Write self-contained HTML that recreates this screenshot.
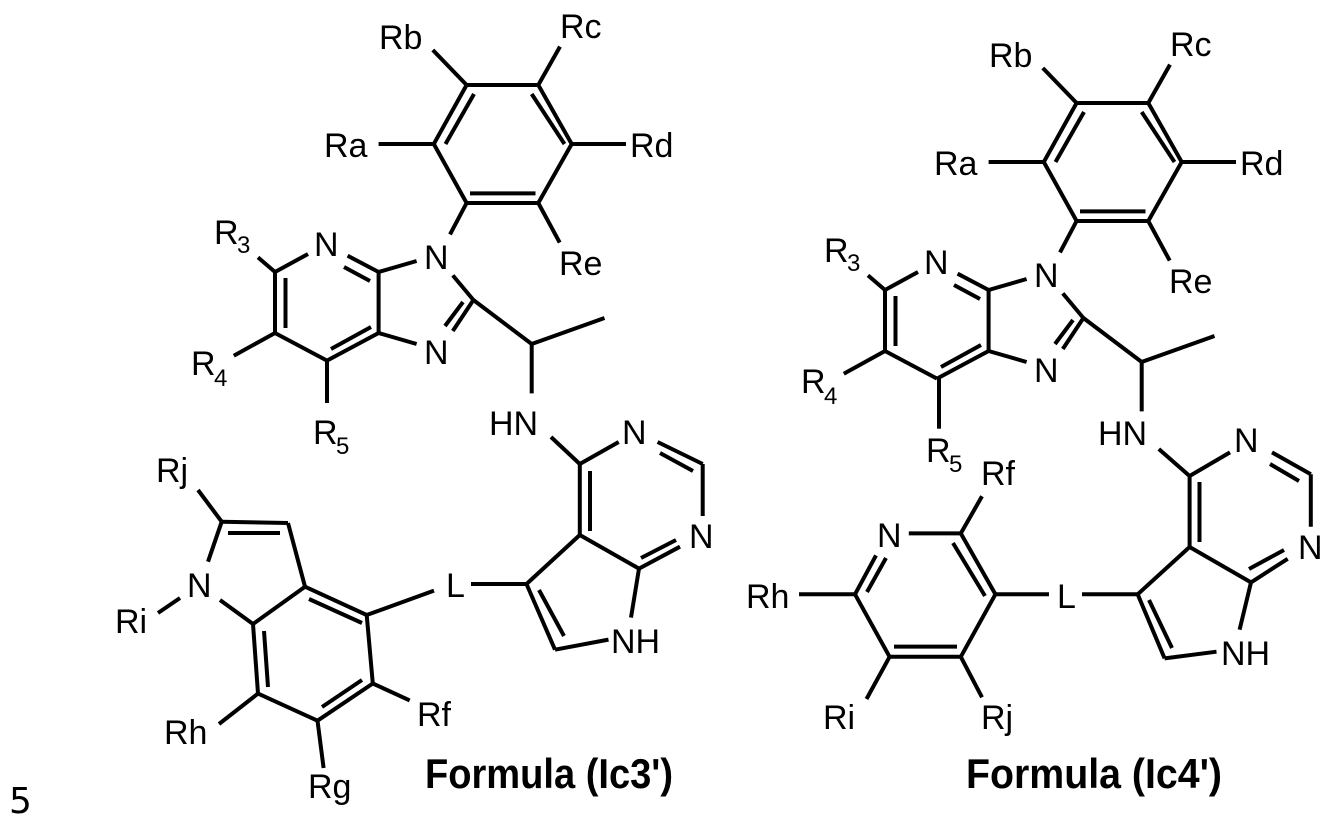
<!DOCTYPE html>
<html><head><meta charset="utf-8"><style>
html,body{margin:0;padding:0;background:#fff;width:1330px;height:825px;overflow:hidden}
svg{display:block}
text{font-family:"Liberation Sans",Arial,sans-serif;font-size:34px;fill:#000}
.s{font-size:24px}
.b{font-weight:bold;font-size:42px}
</style></head><body>
<svg width="1330" height="825" viewBox="0 0 1330 825" xmlns="http://www.w3.org/2000/svg">
<defs>
<g id="top">
<g stroke="#000" stroke-width="4" stroke-linecap="butt" fill="none">
<path d="M466.6,85L538.3,85L571.7,144L538.3,203L466.6,203L433.8,144Z"/>
<line x1="445.5" y1="144" x2="474" y2="94"/>
<line x1="531.7" y1="94" x2="564.5" y2="144"/>
<line x1="470" y1="193.4" x2="535.5" y2="193.4"/>
<line x1="466.6" y1="85" x2="432.8" y2="50"/>
<line x1="538.3" y1="85" x2="560" y2="46.6"/>
<line x1="433.8" y1="144" x2="378.6" y2="144"/>
<line x1="571.7" y1="144" x2="626" y2="144"/>
<line x1="538.3" y1="203" x2="559.7" y2="242.6"/>
<line x1="466.6" y1="203" x2="450" y2="234.4"/>
<line x1="275" y1="272" x2="308" y2="254"/>
<line x1="347.6" y1="255.7" x2="378.6" y2="272"/>
<line x1="344" y1="267" x2="370" y2="281"/>
<line x1="378.6" y1="272" x2="416.6" y2="261"/>
<line x1="378.6" y1="272" x2="378.6" y2="333"/>
<line x1="378.6" y1="333" x2="416.6" y2="344"/>
<line x1="452.8" y1="275.4" x2="473.4" y2="300"/>
<line x1="452.8" y1="331" x2="473.4" y2="300"/>
<line x1="445" y1="326" x2="463" y2="302"/>
<line x1="275" y1="272" x2="275" y2="333"/>
<line x1="285.5" y1="278" x2="285.5" y2="328"/>
<line x1="275" y1="333" x2="327" y2="360.6"/>
<line x1="327" y1="360.6" x2="378.6" y2="333"/>
<line x1="331" y1="349" x2="371" y2="327"/>
<line x1="275" y1="272" x2="258" y2="257.4"/>
<line x1="275" y1="333" x2="233.8" y2="355.7"/>
<line x1="473.4" y1="300" x2="531.7" y2="344"/>
<line x1="531.7" y1="344" x2="604.5" y2="318"/>
<line x1="531.7" y1="344" x2="531.7" y2="393.4"/>
</g>
<text x="379" y="49">Rb</text>
<text x="560" y="38">Rc</text>
<text x="324" y="157">Ra</text>
<text x="630" y="157">Rd</text>
<text x="559" y="275">Re</text>
<text x="424" y="269">N</text>
<text x="314" y="256">N</text>
<text x="424" y="364">N</text>
<text x="214" y="244">R</text><text class="s" x="237" y="253">3</text>
<text x="191" y="375">R</text><text class="s" x="214" y="386">4</text>
</g>
</defs>

<use href="#top"/>
<g stroke="#000" stroke-width="4" fill="none">
<line x1="327" y1="360.6" x2="327" y2="403"/>
<line x1="551" y1="437" x2="579.8" y2="464"/>
<line x1="579.8" y1="464" x2="618.7" y2="442"/>
<line x1="657.6" y1="442" x2="702.7" y2="464"/>
<line x1="660" y1="453" x2="693" y2="471"/>
<line x1="702.7" y1="464" x2="702.7" y2="516"/>
<line x1="680" y1="546.7" x2="639" y2="568.6"/>
<line x1="641" y1="558" x2="676" y2="540"/>
<line x1="579.8" y1="464" x2="579.8" y2="535"/>
<line x1="590" y1="471" x2="590" y2="531"/>
<line x1="579.8" y1="535" x2="639" y2="568.6"/>
<line x1="579.8" y1="535" x2="526.5" y2="584"/>
<line x1="526.5" y1="584" x2="471" y2="584"/>
<line x1="526.5" y1="584" x2="555" y2="649.7"/>
<line x1="539" y1="590" x2="564" y2="636"/>
<line x1="555" y1="649.7" x2="608.5" y2="639.6"/>
<line x1="639" y1="568.6" x2="631" y2="617.6"/>
<line x1="198" y1="490" x2="221.7" y2="521.7"/>
<line x1="221.7" y1="521.7" x2="288" y2="523"/>
<line x1="228" y1="533" x2="280" y2="533"/>
<line x1="221.7" y1="521.7" x2="208" y2="561.7"/>
<line x1="180" y1="598" x2="158" y2="613"/>
<line x1="220" y1="600" x2="253" y2="624"/>
<line x1="288" y1="523" x2="305" y2="586.7"/>
<line x1="305" y1="586.7" x2="253" y2="624"/>
<line x1="305" y1="586.7" x2="366.7" y2="615"/>
<line x1="309" y1="599" x2="362" y2="623"/>
<line x1="366.7" y1="615" x2="434" y2="590.6"/>
<line x1="366.7" y1="615" x2="372.8" y2="683.5"/>
<line x1="372.8" y1="683.5" x2="409.7" y2="700.4"/>
<line x1="372.8" y1="683.5" x2="317.5" y2="720.7"/>
<line x1="362" y1="680" x2="322" y2="707"/>
<line x1="317.5" y1="720.7" x2="258" y2="693.6"/>
<line x1="258" y1="693.6" x2="253" y2="624"/>
<line x1="264" y1="631" x2="268" y2="687"/>
<line x1="258" y1="693.6" x2="219" y2="724"/>
<line x1="317.5" y1="720.7" x2="323.6" y2="768"/>
</g>
<text x="313" y="444">R</text><text class="s" x="336" y="454">5</text>
<text x="489" y="435">HN</text>
<text x="622" y="444">N</text>
<text x="689" y="548">N</text>
<text x="446" y="597">L</text>
<text x="611" y="653">NH</text>
<text x="156" y="482">Rj</text>
<text x="187" y="597">N</text>
<text x="115" y="633">Ri</text>
<text x="417" y="726">Rf</text>
<text x="164" y="744">Rh</text>
<text x="308" y="798">Rg</text>
<text class="b" x="425" y="788" textLength="248" lengthAdjust="spacingAndGlyphs">Formula (Ic3')</text>

<use href="#top" transform="translate(610,18)"/>
<g stroke="#000" stroke-width="4" fill="none">
<line x1="939" y1="378" x2="939" y2="428.7"/>
<line x1="1158.8" y1="449" x2="1189.6" y2="476"/>
<line x1="1189.6" y1="476" x2="1230" y2="452.4"/>
<line x1="1272" y1="452.4" x2="1310.8" y2="474.3"/>
<line x1="1270" y1="464" x2="1299" y2="481"/>
<line x1="1310.8" y1="474.3" x2="1310.8" y2="526.7"/>
<line x1="1287.7" y1="558.8" x2="1251" y2="582.4"/>
<line x1="1249" y1="569" x2="1284" y2="550"/>
<line x1="1189.6" y1="476" x2="1189.6" y2="547"/>
<line x1="1199.5" y1="482" x2="1199.5" y2="542"/>
<line x1="1189.6" y1="547" x2="1251" y2="582.4"/>
<line x1="1189.6" y1="547" x2="1137.7" y2="594.3"/>
<line x1="1137.7" y1="594.3" x2="1082" y2="594.3"/>
<line x1="1137.7" y1="594.3" x2="1164.6" y2="658.4"/>
<line x1="1149" y1="600" x2="1172" y2="648"/>
<line x1="1164.6" y1="658.4" x2="1216.5" y2="651.7"/>
<line x1="1251" y1="582.4" x2="1239.6" y2="629.7"/>
<line x1="908.8" y1="533.4" x2="960.8" y2="533.4"/>
<line x1="960.8" y1="533.4" x2="982" y2="496.3"/>
<line x1="960.8" y1="533.4" x2="995.4" y2="594.3"/>
<line x1="953" y1="543" x2="985" y2="596"/>
<line x1="995.4" y1="594.3" x2="1049" y2="594.3"/>
<line x1="995.4" y1="594.3" x2="960.8" y2="656.8"/>
<line x1="960.8" y1="656.8" x2="982" y2="697.3"/>
<line x1="960.8" y1="656.8" x2="889.6" y2="656.8"/>
<line x1="894" y1="646.6" x2="957" y2="646.6"/>
<line x1="889.6" y1="656.8" x2="866.5" y2="699"/>
<line x1="889.6" y1="656.8" x2="855" y2="594.3"/>
<line x1="855" y1="594.3" x2="799" y2="594.3"/>
<line x1="855" y1="594.3" x2="876" y2="555.4"/>
<line x1="867" y1="592" x2="886" y2="558"/>
</g>
<text x="926" y="462">R</text><text class="s" x="949" y="472">5</text>
<text x="1098" y="445">HN</text>
<text x="1234" y="452">N</text>
<text x="1298" y="559">N</text>
<text x="1057" y="608">L</text>
<text x="1221" y="665">NH</text>
<text x="877" y="547">N</text>
<text x="981" y="485">Rf</text>
<text x="981" y="729">Rj</text>
<text x="823" y="729">Ri</text>
<text x="746" y="608">Rh</text>
<text class="b" x="966" y="788" textLength="256" lengthAdjust="spacingAndGlyphs">Formula (Ic4')</text>

<text x="9" y="813" style="font-family:'DejaVu Sans',sans-serif;font-size:36px">5</text>
</svg>
</body></html>
